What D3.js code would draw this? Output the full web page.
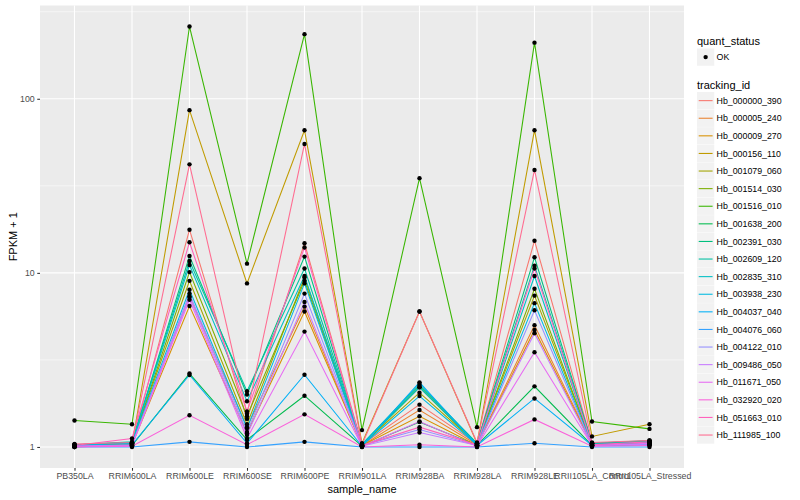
<!DOCTYPE html>
<html>
<head>
<meta charset="utf-8">
<script src="https://cdn.jsdelivr.net/npm/d3@7"></script>
<style>
  body { margin: 0; background: #fff; }
  svg text { font-family: "Liberation Sans", Arial, sans-serif; }
</style>
</head>
<body>
<div id="container"></div>
<script>
// sample order on the x axis
var samples = ["PB350LA", "RRIM600LA", "RRIM600LE", "RRIM600SE", "RRIM600PE", "RRIM901LA",
  "RRIM928BA", "RRIM928LA", "RRIM928LE", "RRII105LA_Control", "RRII105LA_Stressed"];

var trackingIds = ["Hb_000000_390", "Hb_000005_240", "Hb_000009_270", "Hb_000156_110", "Hb_001079_060",
  "Hb_001514_030", "Hb_001516_010", "Hb_001638_200", "Hb_002391_030", "Hb_002609_120",
  "Hb_002835_310", "Hb_003938_230", "Hb_004037_040", "Hb_004076_060", "Hb_004122_010",
  "Hb_009486_050", "Hb_011671_050", "Hb_032920_020", "Hb_051663_010", "Hb_111985_100"];

var yTicks = [1, 10, 100];

// FPKM + 1, one array per gene, in sample order
var hb_000000_390 = [1.03, 1.05, 17.7, 1.45, 14.8, 1.03, 1.75, 1.04, 15.3, 1.05, 1.08];
var hb_000005_240 = [1.02, 1.04, 7.3, 1.3, 6.4, 1.02, 1.63, 1.03, 5.0, 1.04, 1.06];
var hb_000009_270 = [1.01, 1.03, 6.45, 1.2, 6.0, 1.02, 1.5, 1.02, 4.7, 1.03, 1.05];
var hb_000156_110 = [1.0, 1.03, 86, 8.7, 66, 1.05, 6.0, 1.05, 66, 1.15, 1.35];
var hb_001079_060 = [1.02, 1.05, 9.0, 1.35, 9.4, 1.03, 2.05, 1.04, 7.4, 1.04, 1.07];
var hb_001514_030 = [1.02, 1.04, 10.1, 1.5, 9.0, 1.02, 2.2, 1.03, 8.1, 1.03, 1.06];
var hb_001516_010 = [1.42, 1.35, 260, 11.3, 235, 1.25, 35, 1.3, 210, 1.4, 1.27];
var hb_001638_200 = [1.01, 1.02, 2.64, 1.1, 1.97, 1.01, 1.39, 1.02, 2.23, 1.02, 1.03];
var hb_002391_030 = [1.03, 1.06, 12.5, 2.0, 12.4, 1.03, 2.25, 1.05, 12.3, 1.05, 1.08];
var hb_002609_120 = [1.03, 1.07, 11.7, 2.09, 10.6, 1.04, 2.3, 1.05, 11.0, 1.05, 1.09];
var hb_002835_310 = [1.02, 1.06, 11.1, 1.83, 9.6, 1.03, 2.2, 1.04, 9.6, 1.04, 1.07];
var hb_003938_230 = [1.02, 1.05, 8.0, 1.28, 8.7, 1.02, 1.96, 1.03, 6.7, 1.03, 1.06];
var hb_004037_040 = [1.01, 1.03, 2.59, 1.05, 2.6, 1.01, 2.35, 1.02, 1.9, 1.02, 1.03];
var hb_004076_060 = [1.0, 1.0, 1.07, 1.0, 1.07, 1.0, 1.0, 1.0, 1.05, 1.0, 1.0];
var hb_004122_010 = [1.01, 1.03, 7.6, 1.22, 7.6, 1.02, 1.26, 1.02, 6.1, 1.02, 1.04];
var hb_009486_050 = [1.01, 1.02, 7.3, 1.17, 6.8, 1.01, 1.21, 1.02, 4.5, 1.02, 1.04];
var hb_011671_050 = [1.01, 1.02, 7.0, 1.12, 4.6, 1.01, 1.4, 1.01, 3.5, 1.02, 1.05];
var hb_032920_020 = [1.0, 1.01, 1.52, 1.03, 1.54, 1.0, 1.03, 1.0, 1.44, 1.01, 1.02];
var hb_051663_010 = [1.02, 1.12, 15.0, 1.6, 14.0, 1.02, 1.3, 1.03, 10.6, 1.03, 1.07];
var hb_111985_100 = [1.04, 1.06, 42, 1.55, 55, 1.03, 6.0, 1.06, 39, 1.06, 1.09];

var allValues = [hb_000000_390, hb_000005_240, hb_000009_270, hb_000156_110, hb_001079_060,
  hb_001514_030, hb_001516_010, hb_001638_200, hb_002391_030, hb_002609_120,
  hb_002835_310, hb_003938_230, hb_004037_040, hb_004076_060, hb_004122_010,
  hb_009486_050, hb_011671_050, hb_032920_020, hb_051663_010, hb_111985_100];

// ggplot default hue palette for 20 levels
var colours = ["#F8766D", "#EA8331", "#D89000", "#C09B00", "#A3A500", "#7CAE00", "#39B600",
  "#00BB4E", "#00BF7D", "#00C1A3", "#00BFC4", "#00BAE0", "#00B0F6", "#35A2FF", "#9590FF",
  "#C77CFF", "#E76BF3", "#FA62DB", "#FF62BC", "#FF6C91"];

var series = trackingIds.map(function(id, i) {
  return { id: id, colour: colours[i], values: allValues[i].map(function(v, j) {
    return { sample: samples[j], value: v };
  }) };
});

var W = 800, H = 500;
var panel = { left: 40, right: 684, top: 5.5, bottom: 468 };

var svg = d3.select("#container").append("svg")
  .attr("width", W).attr("height", H);

var x = d3.scalePoint()
  .domain(samples)
  .range([panel.left, panel.right])
  .padding(0.6);

// 5% expansion in log space like ggplot
var lmin = Math.log10(d3.min(allValues, function(a) { return d3.min(a); }));
var lmax = Math.log10(d3.max(allValues, function(a) { return d3.max(a); }));
var pad = (lmax - lmin) * 0.05;
var y = d3.scaleLog()
  .domain([Math.pow(10, lmin - pad), Math.pow(10, lmax + pad)])
  .range([panel.bottom, panel.top]);

// panel background
svg.append("rect")
  .attr("x", panel.left).attr("y", panel.top)
  .attr("width", panel.right - panel.left).attr("height", panel.bottom - panel.top)
  .attr("fill", "#EBEBEB");

// minor grid (half decades)
var minor = [0.5, 1.5, 2.5].map(function(e) { return Math.pow(10, e); })
  .filter(function(v) { return v > y.domain()[0] && v < y.domain()[1]; });
svg.selectAll(".minor").data(minor).enter().append("line")
  .attr("x1", panel.left).attr("x2", panel.right)
  .attr("y1", function(d) { return y(d); }).attr("y2", function(d) { return y(d); })
  .attr("stroke", "#fff").attr("stroke-width", 0.55);

svg.selectAll(".majorY").data(yTicks).enter().append("line")
  .attr("x1", panel.left).attr("x2", panel.right)
  .attr("y1", function(d) { return y(d); }).attr("y2", function(d) { return y(d); })
  .attr("stroke", "#fff").attr("stroke-width", 1.1);

svg.selectAll(".majorX").data(samples).enter().append("line")
  .attr("x1", function(d) { return x(d); }).attr("x2", function(d) { return x(d); })
  .attr("y1", panel.top).attr("y2", panel.bottom)
  .attr("stroke", "#fff").attr("stroke-width", 1.1);

// lines
var line = d3.line()
  .x(function(d) { return x(d.sample); })
  .y(function(d) { return y(d.value); });

svg.selectAll(".series").data(series).enter().append("path")
  .attr("d", function(d) { return line(d.values); })
  .attr("fill", "none")
  .attr("stroke", function(d) { return d.colour; })
  .attr("stroke-width", 1.07);

// points
var pts = [];
series.forEach(function(s) { s.values.forEach(function(v) { pts.push(v); }); });
svg.selectAll(".pt").data(pts).enter().append("circle")
  .attr("cx", function(d) { return x(d.sample); })
  .attr("cy", function(d) { return y(d.value); })
  .attr("r", 2.2)
  .attr("fill", "#000");

// axes
var xAxis = svg.append("g")
  .attr("transform", "translate(0," + panel.bottom + ")")
  .call(d3.axisBottom(x).tickSize(2.75).tickPadding(2.5));
var yAxis = svg.append("g")
  .attr("transform", "translate(" + panel.left + ",0)")
  .call(d3.axisLeft(y).tickValues(yTicks).tickFormat(d3.format("d")).tickSize(2.75).tickPadding(2.5));
[xAxis, yAxis].forEach(function(g) {
  g.select(".domain").remove();
  g.selectAll(".tick line").attr("stroke", "#333333").attr("stroke-width", 1.07);
  g.selectAll(".tick text").attr("fill", "#4D4D4D").style("font-size", "8.8px")
    .style("font-family", "Liberation Sans, Arial, sans-serif");
});

svg.append("text")
  .attr("x", (panel.left + panel.right) / 2).attr("y", 493)
  .attr("text-anchor", "middle").style("font-size", "11px")
  .text("sample_name");

svg.append("text")
  .attr("transform", "translate(17," + ((panel.top + panel.bottom) / 2) + ") rotate(-90)")
  .attr("text-anchor", "middle").style("font-size", "11px")
  .text("FPKM + 1");

// legends
var lx = 697;
svg.append("text").attr("x", lx).attr("y", 44.5).style("font-size", "11px").text("quant_status");
svg.append("rect").attr("x", lx).attr("y", 48.5).attr("width", 17.28).attr("height", 17.28).attr("fill", "#F2F2F2");
svg.append("circle").attr("cx", lx + 8.64).attr("cy", 57.1).attr("r", 2.2).attr("fill", "#000");
svg.append("text").attr("x", lx + 19.6).attr("y", 60.3).style("font-size", "8.8px").text("OK");

svg.append("text").attr("x", lx).attr("y", 88.5).style("font-size", "11px").text("tracking_id");

var keys = svg.selectAll(".key").data(series).enter().append("g")
  .attr("transform", function(d, i) { return "translate(" + lx + "," + (92 + i * 17.6) + ")"; });
keys.append("rect").attr("width", 17.28).attr("height", 17.28).attr("fill", "#F2F2F2");
keys.append("line").attr("x1", 1.7).attr("x2", 15.6).attr("y1", 8.64).attr("y2", 8.64)
  .attr("stroke", function(d) { return d.colour; }).attr("stroke-width", 1.07);
keys.append("text").attr("x", 19.6).attr("y", 11.8).style("font-size", "8.8px")
  .text(function(d) { return d.id; });
</script>
</body>
</html>
